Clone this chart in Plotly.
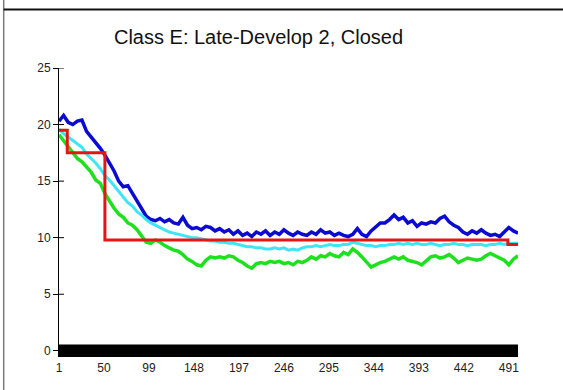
import plotly.graph_objects as go

# ---- data ---------------------------------------------------------------
step = 5
start = 1

upper_vals = [
    20.3, 20.8, 20.2, 20.0, 20.3, 20.4, 19.4, 18.9, 18.5, 17.9,
    17.3, 16.6, 15.9, 15.0, 14.5, 14.6, 13.9, 13.2, 12.6, 11.9,
    11.6, 11.5, 11.7, 11.4, 11.6, 11.3, 11.2, 11.8, 11.1, 10.8,
    10.9, 10.7, 11.0, 10.9, 10.6, 10.8, 10.5, 10.7, 10.3, 10.6,
    10.2, 10.4, 10.1, 10.5, 10.3, 10.6, 10.2, 10.5, 10.3, 10.7,
    10.4, 10.2, 10.5, 10.3, 10.2, 10.5, 10.3, 10.7, 10.4, 10.5,
    10.2, 10.4, 10.2, 10.1, 10.3, 10.8, 10.3, 10.1, 10.6, 11.0,
    11.3, 11.3, 11.6, 12.0, 11.6, 11.8, 11.3, 11.5, 11.0, 11.3,
    11.2, 11.4, 11.3, 11.7, 11.9, 11.4, 11.1, 10.9, 10.5, 10.3,
    10.6, 10.4, 10.7, 10.4, 10.2, 10.3, 10.1, 10.5, 10.9, 10.6,
    10.4,
]

mean_vals = [
    19.6, 19.2, 18.9, 18.6, 18.3, 18.0, 17.4, 17.0, 16.6, 16.1,
    15.5, 15.1, 14.6, 14.0, 13.6, 13.1, 12.8, 12.3, 12.0, 11.6,
    11.3, 11.1, 10.9, 10.7, 10.5, 10.4, 10.3, 10.2, 10.1, 10.0,
    10.0, 9.9, 9.8, 9.7, 9.7, 9.6, 9.6, 9.5, 9.5, 9.4,
    9.3, 9.2, 9.2, 9.1, 9.1, 9.0, 9.0, 9.1, 9.0, 9.1,
    8.9, 9.0, 8.9, 9.1, 9.2, 9.2, 9.3, 9.2, 9.3, 9.4,
    9.3, 9.3, 9.4, 9.4, 9.6, 9.5, 9.4, 9.3, 9.3, 9.2,
    9.3, 9.3, 9.4, 9.4, 9.5, 9.4, 9.5, 9.4, 9.5, 9.4,
    9.4, 9.5, 9.4, 9.3, 9.4, 9.4, 9.5, 9.4, 9.4, 9.3,
    9.4, 9.4, 9.4, 9.3, 9.4, 9.4, 9.5, 9.4, 9.5, 9.5,
    9.5,
]

lower_vals = [
    19.1, 18.6, 18.1, 17.5, 17.0, 16.7, 16.3, 15.8, 15.1, 14.8,
    13.9, 13.2, 12.6, 12.1, 11.8, 11.3, 11.1, 10.7, 10.2, 9.6,
    9.5, 9.8, 9.6, 9.3, 9.1, 8.9, 8.8, 8.5, 8.1, 7.9,
    7.6, 7.5, 8.0, 8.3, 8.2, 8.3, 8.2, 8.4, 8.3, 8.0,
    7.8, 7.5, 7.3, 7.7, 7.8, 7.7, 7.9, 7.8, 7.9, 7.7,
    7.8, 7.6, 7.9, 7.8, 8.0, 8.3, 8.1, 8.4, 8.3, 8.6,
    8.4, 8.3, 8.7, 8.5, 9.0, 8.7, 8.3, 7.9, 7.4, 7.6,
    7.8, 7.9, 8.1, 8.3, 8.1, 8.3, 8.0, 7.9, 7.8, 7.6,
    8.0, 8.3, 8.4, 8.2, 8.3, 8.5, 8.2, 7.8, 8.0, 8.2,
    8.1, 8.0, 8.1, 8.4, 8.6, 8.4, 8.2, 8.0, 7.6, 8.1,
    8.4,
]

step_x = [1, 10, 51, 490, 501]
step_y = [19.5, 17.5, 9.8, 9.4, 9.4]

x_ticks = [1, 50, 99, 148, 197, 246, 295, 344, 393, 442, 491]
y_ticks = [0, 5, 10, 15, 20, 25]

title_text = "Class E: Late-Develop 2, Closed"

# ---- figure -------------------------------------------------------------
def xs(vals):
    return [start + step * i for i in range(len(vals))]

FONT = "Liberation Sans, Arial, sans-serif"
W, H = 563, 390
L, R, T, B = 59, 45, 68, 33
pw, ph = W - L - R, H - T - B
X_RANGE = [1, 501]
Y_RANGE = [-0.55, 25]

fig = go.Figure()
for vals, color, width in [(upper_vals, "#0a0ad0", 3.5),
                           (mean_vals, "#3ee6f5", 3),
                           (lower_vals, "#1fe01f", 3.5)]:
    fig.add_trace(go.Scatter(x=xs(vals), y=vals, mode="lines",
                             line=dict(color=color, width=width),
                             hoverinfo="skip", showlegend=False))

fig.add_trace(go.Scatter(x=step_x, y=step_y, mode="lines",
                         line=dict(color="#e81414", width=3, shape="hv"),
                         hoverinfo="skip", showlegend=False))

shapes = []
# thick black baseline band along zero
shapes.append(dict(type="rect", xref="x", yref="y",
                   x0=X_RANGE[0], x1=X_RANGE[1], y0=-0.55, y1=0.55,
                   fillcolor="black", line=dict(width=0), layer="above"))
# inner halves of the y ticks (the outer halves come from the axis)
for v in y_ticks[1:]:
    shapes.append(dict(type="line", xref="x", yref="y",
                       xsizemode="pixel", xanchor=X_RANGE[0],
                       x0=0, x1=5, y0=v, y1=v,
                       line=dict(color="black", width=1)))
# page frame lines
fx0 = (3.7 - L) / pw
shapes.append(dict(type="line", xref="paper", yref="paper",
                   x0=fx0, x1=fx0, y0=-B / ph, y1=1 + T / ph,
                   line=dict(color="#7a7a7a", width=1.5)))
fy = 1 + (T - 9.5) / ph
shapes.append(dict(type="line", xref="paper", yref="paper",
                   x0=fx0, x1=(W - L) / pw, y0=fy, y1=fy,
                   line=dict(color="#111111", width=2)))

fig.update_layout(
    width=W, height=H,
    margin=dict(l=L, r=R, t=T, b=B, pad=0),
    paper_bgcolor="white", plot_bgcolor="white",
    font=dict(family=FONT, size=12, color="#222222"),
    title=dict(text=title_text, x=258.5 / W, xanchor="center",
               y=1 - 37 / H, yanchor="middle",
               font=dict(family=FONT, size=20, color="#111111")),
    xaxis=dict(range=X_RANGE, showgrid=False, zeroline=False,
               showline=False, tickmode="array", tickvals=x_ticks,
               ticks="", ticklabelstandoff=2,
               tickfont=dict(size=12, color="#222222")),
    yaxis=dict(range=Y_RANGE, showgrid=False, zeroline=False,
               showline=True, linecolor="black", linewidth=1,
               tickmode="array", tickvals=y_ticks,
               ticks="outside", ticklen=5, tickcolor="black",
               tickfont=dict(size=12, color="#222222")),
    shapes=shapes,
)

fig.write_html("out.html")
